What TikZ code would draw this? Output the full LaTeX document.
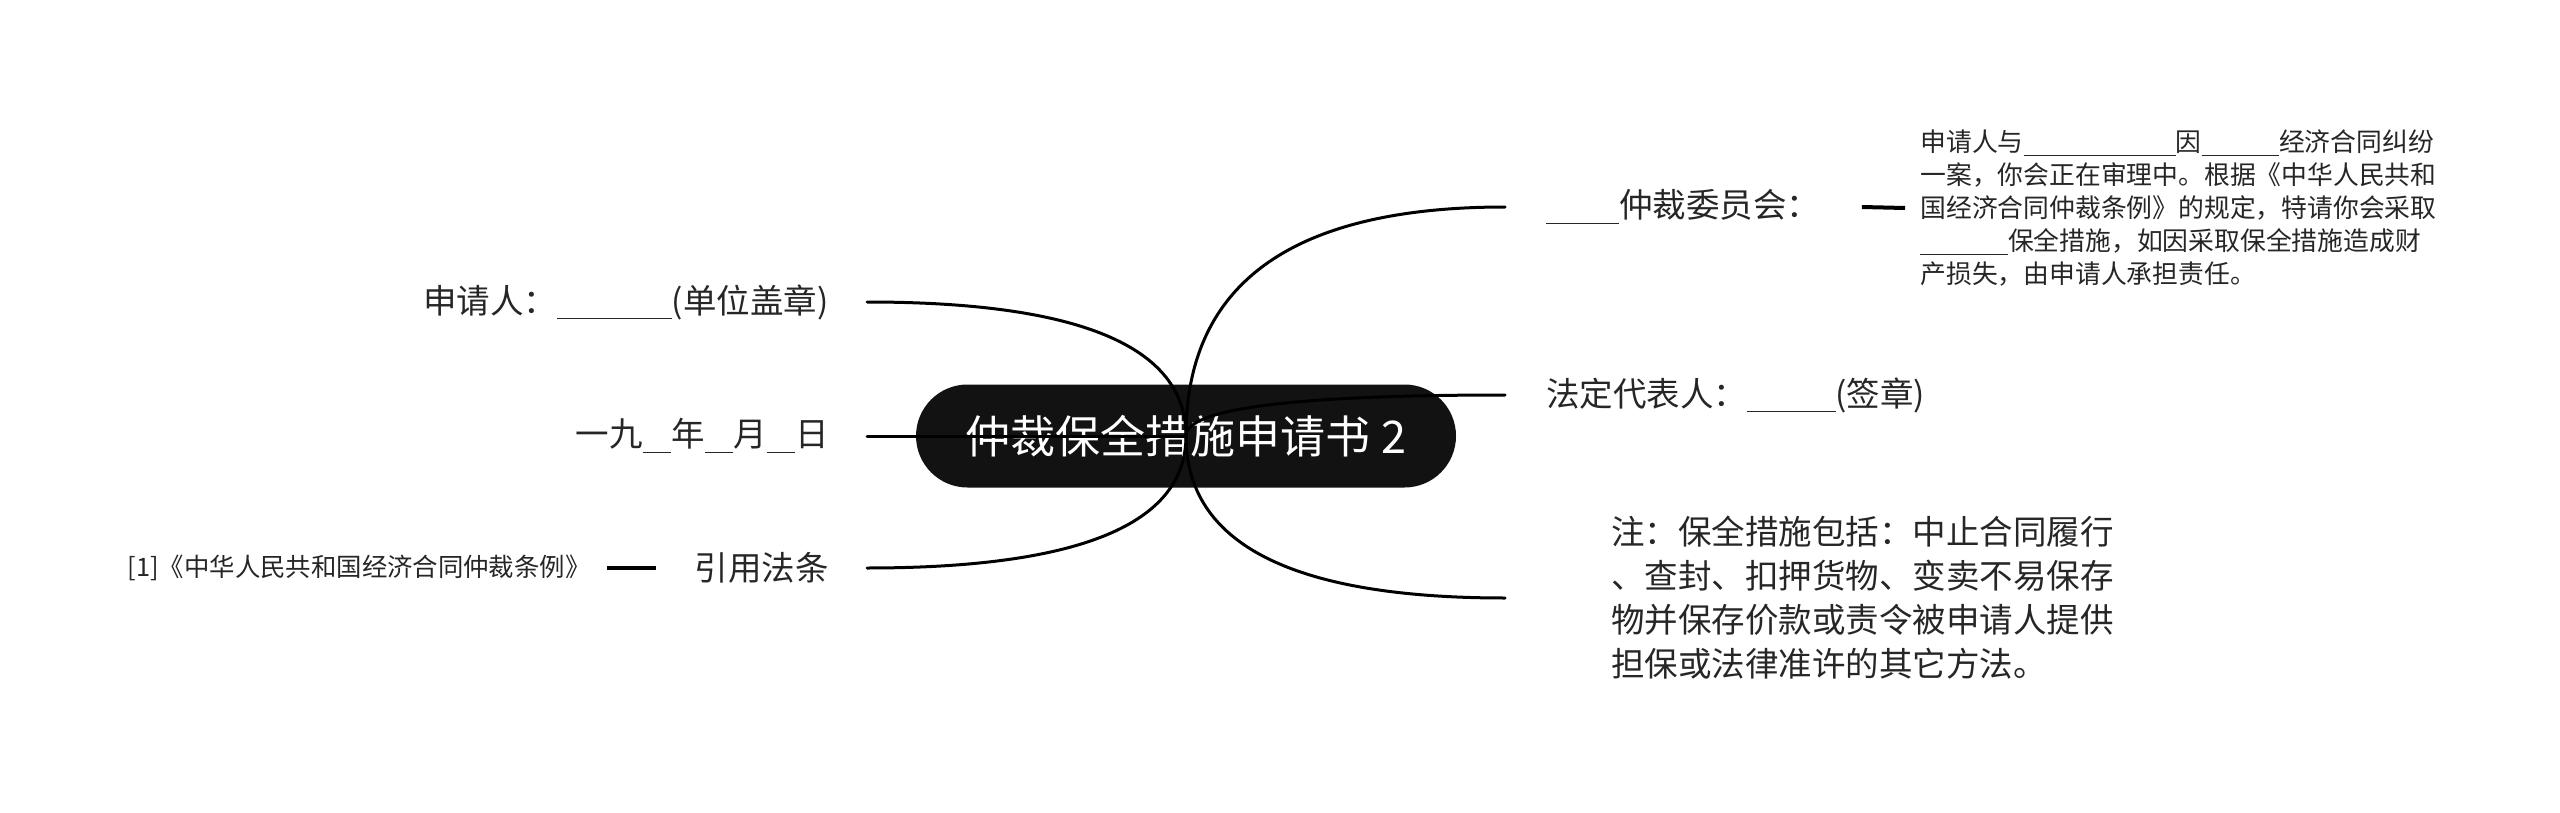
\documentclass[tikz,border=0pt]{standalone}
\usepackage{fontspec}
\setmainfont{Noto Sans CJK SC}
\usetikzlibrary{calc}
\newcommand\myblank[1]{\rule[-0.19em]{#1em}{0.05em}}
\begin{document}
\begin{tikzpicture}[x=0.5pt,y=-0.5pt,
  txt/.style={text=black!85, inner ysep=0pt, font=\fontsize{16.75pt}{22pt}\selectfont},
  small/.style={text=black!85, inner ysep=0pt, font=\fontsize{12.9pt}{16.5pt}\selectfont},
  conn/.style={line width=1.5pt, line cap=round},
  stub/.style={line width=2pt},
  mmcurve/.style={to path={.. controls ($(\tikztostart)!0.667!(\tikztostart |- \tikztotarget)$) and ($(\tikztotarget)!0.667!(\tikztostart |- \tikztotarget)$) .. (\tikztotarget)}}]
\useasboundingbox (0,0) rectangle (2560,813);
\node[fill=black!93, rounded corners=25.75pt, minimum width=270pt, minimum height=51.5pt, text=white, font=\fontsize{22.5pt}{27pt}\selectfont, inner sep=0pt] (c) at (1186,436) {仲裁保全措施申请书 2};
% left
\node[txt, anchor=east, inner xsep=19pt] (l1) at (867,302) {申请人：\myblank{3.43}(单位盖章)};
\node[txt, anchor=east, inner xsep=19pt] (l2) at (867,436) {一九\myblank{0.85}年\myblank{0.85}月\myblank{0.85}日};
\node[txt, anchor=east, inner xsep=19pt] (l3) at (867,568) {引用法条};
\node[small, anchor=east, inner xsep=8pt, font=\fontsize{12.7pt}{16pt}\selectfont] (ref) at (607,568) {[1]《中华人民共和国经济合同仲裁条例》};
% right
\node[txt, anchor=west, inner xsep=20.5pt] (r1) at (1505,207) {\myblank{2.18}仲裁委员会：};
\node[small, anchor=west, inner xsep=7.5pt, align=left] (para) at (1905,208) {申请人与\myblank{5.9}因\myblank{3.0}经济合同纠纷\\
一案，你会正在审理中。根据《中华人民共和\\
国经济合同仲裁条例》的规定，特请你会采取\\
\myblank{3.4}保全措施，如因采取保全措施造成财\\
产损失，由申请人承担责任。};
\node[txt, anchor=west, inner xsep=20.5pt] (r2) at (1505,395) {法定代表人：\myblank{2.63}(签章)};
\node[txt, anchor=west, inner xsep=53pt, align=left] (r3) at (1505,598) {注：保全措施包括：中止合同履行\\
、查封、扣押货物、变卖不易保存\\
物并保存价款或责令被申请人提供\\
担保或法律准许的其它方法。};
% connectors
\draw[conn] (c.center) to[mmcurve] (l1.east);
\draw[conn] (c.center) to[mmcurve] (l2.east);
\draw[conn] (c.center) to[mmcurve] (l3.east);
\draw[conn] (c.center) to[mmcurve] (r1.west);
\draw[conn] (c.center) to[mmcurve] (r2.west);
\draw[conn] (c.center) to[mmcurve] (r3.west);
\draw[stub] (ref.east) -- (l3.west);
\draw[stub] (r1.east) -- (para.west);
\end{tikzpicture}
\end{document}
